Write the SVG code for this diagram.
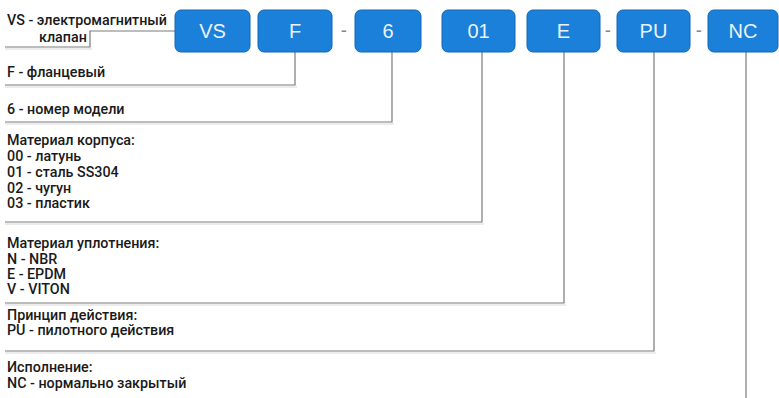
<svg xmlns="http://www.w3.org/2000/svg" width="779" height="398" viewBox="0 0 779 398">
<style>
.box{fill:#1a80d9;stroke:#1266b3;stroke-width:1}
.bt{font-family:"Liberation Sans",Arial,sans-serif;font-size:20px;fill:#eaf3fc;text-anchor:middle}
.lbl{font-family:Roboto,"Liberation Sans",sans-serif;font-size:14.3px;font-weight:500;fill:#1a1a1a}
.dash{font-family:Roboto,"Liberation Sans",sans-serif;font-size:17px;font-weight:500;fill:#888;text-anchor:middle}
.ln{fill:none;stroke:#7a7a7a;stroke-width:1.2}
.sh{fill:none;stroke:#ececec;stroke-width:2}
</style>
<rect width="779" height="398" fill="#fff"/>
<g id="connectors">
<polyline class="sh" points="5,49 92,49"/>
<polyline class="sh" points="5,87 297,87"/>
<polyline class="sh" points="5,124 394,124"/>
<polyline class="sh" points="5,224 484,224"/>
<polyline class="sh" points="5,305 566,305"/>
<polyline class="sh" points="5,353 656,353"/>
<polyline class="ln" points="5,47 90,47 90,31 175,31"/>
<polyline class="ln" points="5,85 295,85 295,52"/>
<polyline class="ln" points="5,122 392,122 392,52"/>
<polyline class="ln" points="5,222 482,222 482,52"/>
<polyline class="ln" points="5,303 564,303 564,52"/>
<polyline class="ln" points="5,351 654,351 654,52"/>
<polyline class="ln" points="746,398 746,52"/>
</g>
<g id="node-vs"><rect class="box" x="175" y="10" width="75" height="42" rx="6"/><text class="bt" x="212.5" y="38">VS</text></g>
<g id="node-f"><rect class="box" x="258" y="10" width="74" height="42" rx="6"/><text class="bt" x="295" y="38">F</text></g>
<text class="dash" x="344" y="36">-</text>
<g id="node-6"><rect class="box" x="355" y="10" width="66" height="42" rx="6"/><text class="bt" x="388" y="38">6</text></g>
<g id="node-01"><rect class="box" x="442" y="10" width="73" height="42" rx="6"/><text class="bt" x="478.5" y="38">01</text></g>
<g id="node-e"><rect class="box" x="527" y="10" width="73" height="42" rx="6"/><text class="bt" x="563.5" y="38">E</text></g>
<text class="dash" x="608" y="36">-</text>
<g id="node-pu"><rect class="box" x="617" y="10" width="73" height="42" rx="6"/><text class="bt" x="653.5" y="38">PU</text></g>
<text class="dash" x="699" y="36">-</text>
<g id="node-nc"><rect class="box" x="708" y="10" width="70" height="42" rx="6"/><text class="bt" x="743" y="38">NC</text></g>
<g id="desc-vs"><text class="lbl" x="7" y="25">VS - электромагнитный</text><text class="lbl" x="39" y="42">клапан</text></g>
<g id="desc-f"><text class="lbl" x="7" y="77">F - фланцевый</text></g>
<g id="desc-6"><text class="lbl" x="7" y="114">6 - номер модели</text></g>
<g id="desc-01">
<text class="lbl" x="7" y="145">Материал корпуса:</text>
<text class="lbl" x="7" y="161">00 - латунь</text>
<text class="lbl" x="7" y="177">01 - сталь SS304</text>
<text class="lbl" x="7" y="193">02 - чугун</text>
<text class="lbl" x="7" y="208">03 - пластик</text>
</g>
<g id="desc-e">
<text class="lbl" x="7" y="248">Материал уплотнения:</text>
<text class="lbl" x="7" y="264">N - NBR</text>
<text class="lbl" x="7" y="279">E - EPDM</text>
<text class="lbl" x="7" y="294">V - VITON</text>
</g>
<g id="desc-pu">
<text class="lbl" x="7" y="320">Принцип действия:</text>
<text class="lbl" x="7" y="335">PU - пилотного действия</text>
</g>
<g id="desc-nc">
<text class="lbl" x="7" y="372">Исполнение:</text>
<text class="lbl" x="7" y="388">NC - нормально закрытый</text>
</g>
</svg>
